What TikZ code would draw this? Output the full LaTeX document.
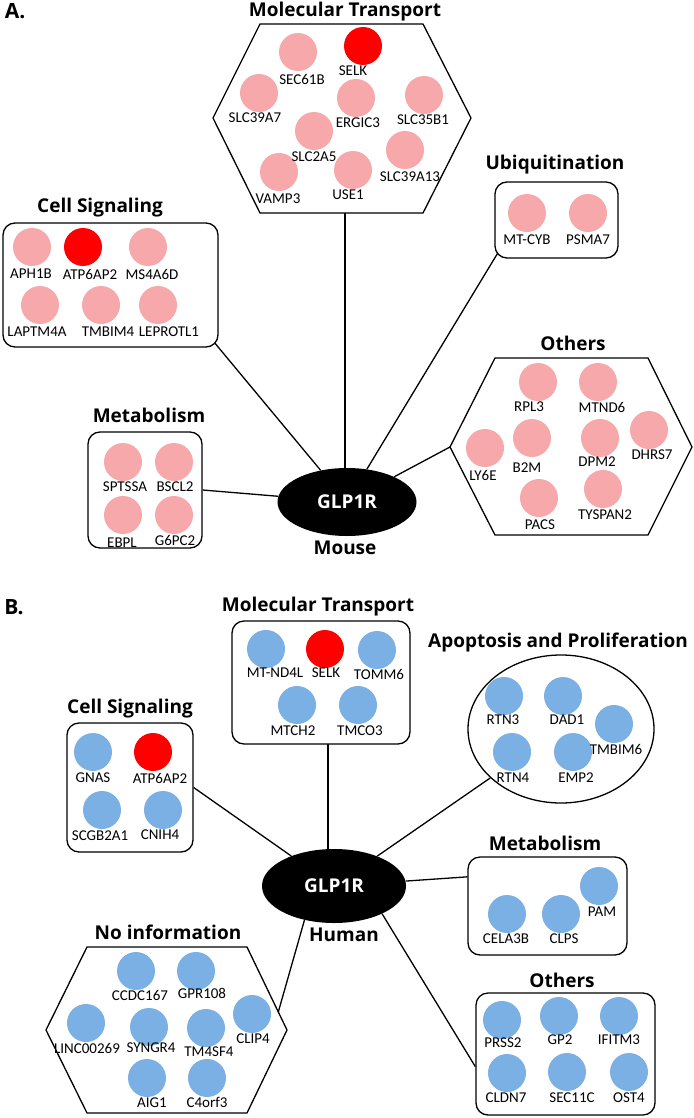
\documentclass[tikz,border=0pt]{standalone}
\usepackage{fontspec}
\setmainfont{Carlito}
\newfontfamily\headfont{Open Sans}
\usetikzlibrary{shapes.geometric}
\definecolor{genepink}{RGB}{246,168,170}
\definecolor{geneblue}{RGB}{122,176,228}
\definecolor{genered}{RGB}{255,0,0}
\pgfdeclarelayer{bg}
\pgfdeclarelayer{top}
\pgfsetlayers{bg,main,top}

\begin{document}
\begin{tikzpicture}[x=1pt,y=-1pt,
	dot/.style={circle,fill=#1,inner sep=0pt,minimum size=38pt},
	genelbl/.style={inner sep=0pt,font=\fontsize{15}{17}\selectfont},
	title/.style={inner sep=0pt,font=\headfont\bfseries\fontsize{19}{22}\selectfont},
	letter/.style={inner sep=0pt,font=\headfont\bfseries\fontsize{21}{24}\selectfont},
	grp/.style={draw,line width=1.3pt,rounded corners=12pt,fill=white,inner sep=0pt},
	hub/.style={ellipse,fill=black,text=white,inner sep=0pt,font=\headfont\bfseries\fontsize{19}{22}\selectfont},
	link/.style={line width=1.3pt}]
	%\draw[help lines] (0,0) grid[step=50pt] (693,1118);
	\useasboundingbox (0,0) rectangle (693,1118);
	
	% ---- A. Mouse
	\node[letter] (pA) at (15,11) {A.};
	\node[hub,minimum width=139pt,minimum height=68pt] (glpA) at (347,502) {GLP1R};
	\node[title] (mouse) at (345,548) {Mouse};
	
	\node[title] (tmtA) at (345,12) {Molecular Transport};
	\draw[line width=1.3pt,fill=white] (260,24) -- (423,24) -- (471,118) -- (423,213) -- (260,213) -- (213,118) -- cycle;
	\coordinate (mtA) at (345,213);
	
	\node[title] (tcsA) at (100,208) {Cell Signaling};
	\node[grp,minimum width=215pt,minimum height=124pt] (csA) at (110.5,285) {};
	
	\node[title] (tmetA) at (149,415) {Metabolism};
	\node[grp,minimum width=114pt,minimum height=116pt] (metA) at (145,490) {};
	
	\node[title] (tubA) at (555,165) {Ubiquitination};
	\node[grp,minimum width=123pt,minimum height=76pt] (ubA) at (556.5,220) {};
	
	\node[title] (tothA) at (573,343) {Others};
	\draw[line width=1.3pt,fill=white] (495,358) -- (648,358) -- (692,447) -- (648,535) -- (495,535) -- (450,447) -- cycle;
	\coordinate (othA) at (450,447);
	
	\foreach \n/\c/\x/\y/\lx/\ly/\t in {
		sec61b/genepink/298/52/302/79/SEC61B, selkA/genered/363/46/353/71/SELK,
		slc39a7/genepink/259/93/255/118/SLC39A7, ergic3/genepink/356/98/358/123/ERGIC3,
		slc35b1/genepink/424/95/423/120/SLC35B1, slc2a5/genepink/314/131/314/157/SLC2A5,
		slc39a13/genepink/405/150/410/177/SLC39A13, vamp3/genepink/279/172/278/199/VAMP3,
		use1/genepink/353/170/348/195/USE1,
		aph1b/genepink/32/247/31/274/APH1B, atpA/genered/83/247/90/274/ATP6AP2,
		ms4a6d/genepink/148/247/152/274/MS4A6D, laptm4a/genepink/40/305/37/332/LAPTM4A,
		tmbim4/genepink/101/305/108/332/TMBIM4, leprotl1/genepink/158/305/169/332/LEPROTL1,
		sptssa/genepink/123/462/125/487/SPTSSA, bscl2/genepink/174/462/175/487/BSCL2,
		ebpl/genepink/123/515/122/543/EBPL, g6pc2/genepink/174/515/175/540/G6PC2,
		mtcyb/genepink/527/213/527/240/MT-CYB, psma7/genepink/588/213/588/240/PSMA7,
		rpl3/genepink/538/382/529/407/RPL3, mtnd6/genepink/598/382/602/407/MTND6,
		ly6e/genepink/485/448/483/475/LY6E, b2m/genepink/532/438/527/468/B2M,
		dpm2/genepink/600/438/597/462/DPM2, dhrs7/genepink/649/430/652/455/DHRS7,
		pacs/genepink/539/498/540/525/PACS, tyspan2/genepink/603/489/605/515/TYSPAN2}{
		\node[dot=\c] (\n) at (\x,\y) {};
		\begin{pgfonlayer}{top}\node[genelbl] (\n-l) at (\lx,\ly) {\t};\end{pgfonlayer}
	}
	
	% ---- B. Human
	\node[letter] (pB) at (14,607) {B.};
	\node[hub,minimum width=144pt,minimum height=74pt] (glpB) at (334,886) {GLP1R};
	\node[title] (human) at (344,935) {Human};
	
	\node[title] (tmtB) at (318,607) {Molecular Transport};
	\node[grp,minimum width=178pt,minimum height=123pt] (mtB) at (321,682.5) {};
	\coordinate (mtBf) at (328,744);
	
	\node[title] (tcsB) at (130,709) {Cell Signaling};
	\node[grp,minimum width=126pt,minimum height=129pt] (csB) at (130,787.5) {};
	
	\node[title] (tapB) at (558,643) {Apoptosis and Proliferation};
	\node[draw,ellipse,line width=1.3pt,fill=white,minimum width=186pt,minimum height=148pt] (apB) at (561,729) {};
	
	\node[title] (tmetB) at (545,843) {Metabolism};
	\node[grp,minimum width=159pt,minimum height=98pt] (metB) at (547.5,906) {};
	
	\node[title] (tothB) at (562,980) {Others};
	\node[grp,minimum width=179pt,minimum height=122pt] (othB) at (565.5,1054) {};
	
	\node[title] (tniB) at (168,932) {No information};
	\draw[line width=1.3pt,fill=white] (87,947) -- (247,947) -- (287,1030) -- (247,1113) -- (87,1113) -- (46,1030) -- cycle;
	\coordinate (niB) at (278,1013);
	
	\foreach \n/\c/\x/\y/\lx/\ly/\t in {
		mtnd4l/geneblue/266/649/275/673/MT-ND4L, selkB/genered/325/649/326/673/SELK,
		tomm6/geneblue/377/650/379/674/TOMM6, mtch2/geneblue/297/705/293/731/MTCH2,
		tmco3/geneblue/358/705/360/731/TMCO3,
		gnas/geneblue/93/752/93/778/GNAS, atpB/genered/153/752/160/778/ATP6AP2,
		scgb2a1/geneblue/102/810/100/836/SCGB2A1, cnih4/geneblue/163/810/160/835/CNIH4,
		rtn3/geneblue/504/696/503/720/RTN3, dad1/geneblue/563/696/567/720/DAD1,
		tmbim6/geneblue/614/724/616/749/TMBIM6, rtn4/geneblue/512/752/513/778/RTN4,
		emp2/geneblue/573/752/576/778/EMP2,
		pam/geneblue/599/886/602/912/PAM, cela3b/geneblue/507/914/506/939/CELA3B,
		clps/geneblue/561/914/564/939/CLPS,
		prss2/geneblue/502/1020/503/1043/PRSS2, gp2/geneblue/559/1016/560/1040/GP2,
		ifitm3/geneblue/619/1016/619/1040/IFITM3, cldn7/geneblue/507/1073/506/1098/CLDN7,
		sec11c/geneblue/567/1072/572/1098/SEC11C, ost4/geneblue/629/1072/629/1098/OST4,
		ccdc167/geneblue/136/971/140/995/CCDC167, gpr108/geneblue/196/971/202/993/GPR108,
		linc00269/geneblue/86/1023/87/1048/LINC00269, syngr4/geneblue/149/1027/151/1048/SYNGR4,
		tm4sf4/geneblue/206/1028/209/1052/TM4SF4, clip4/geneblue/252/1014/253/1039/CLIP4,
		aig1/geneblue/147/1078/152/1103/AIG1, c4orf3/geneblue/207/1078/207/1102/C4orf3}{
		\node[dot=\c] (\n) at (\x,\y) {};
		\begin{pgfonlayer}{top}\node[genelbl] (\n-l) at (\lx,\ly) {\t};\end{pgfonlayer}
	}
	
	\begin{pgfonlayer}{bg}
		\draw[link] (mtA) -- (mtA |- glpA.north);
		\draw[link,shorten <=-8pt] (csA.south east) -- (glpA);
		\draw[link] (metA.east) -- (glpA);
		\draw[link,shorten <=-8pt] (ubA.south west) -- (glpA);
		\draw[link] (othA) -- (glpA);
		
		\draw[link] (mtBf) -- (mtBf |- glpB.north);
		\draw[link] (csB.east) -- (glpB);
		\draw[link] (apB) -- (glpB);
		\draw[link] (metB.160) -- (glpB);
		\draw[link] (othB.188) -- (glpB.-30);
		\draw[link] (niB) -- (glpB.-131);
	\end{pgfonlayer}
\end{tikzpicture}
\end{document}
